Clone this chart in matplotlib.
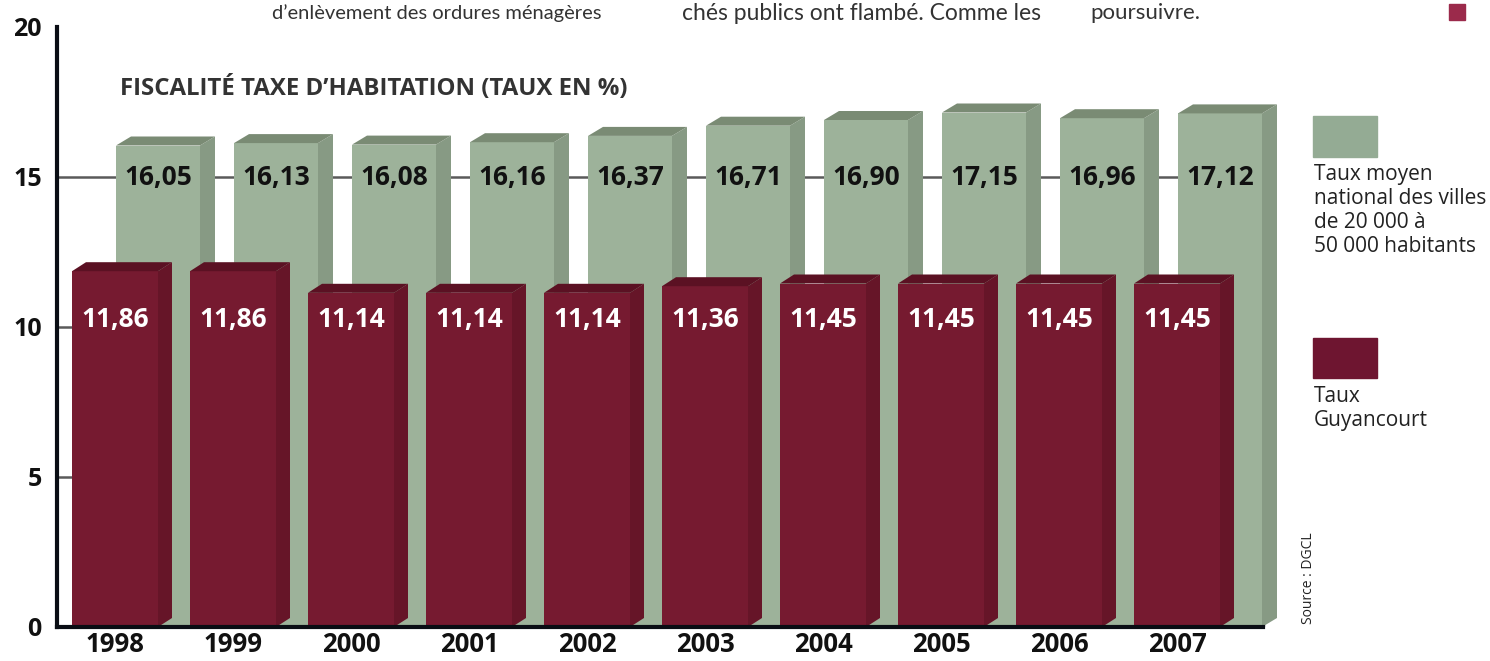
import matplotlib
matplotlib.use("Agg")
import matplotlib.pyplot as plt
from matplotlib.patches import Rectangle

plt.rcParams['font.family'] = ['Open Sans', 'DejaVu Sans']

# data
years = ['1998', '1999', '2000', '2001', '2002', '2003', '2004', '2005', '2006', '2007']
national = [16.05, 16.13, 16.08, 16.16, 16.37, 16.71, 16.90, 17.15, 16.96, 17.12]
guyancourt = [11.86, 11.86, 11.14, 11.14, 11.14, 11.36, 11.45, 11.45, 11.45, 11.45]
yticks = [0, 5, 10, 15, 20]

# colours
g_front, g_side, g_top = '#9db29a', '#879a84', '#7a8b74'
m_front, m_side, m_top = '#761a30', '#661528', '#5b1123'

W, H = 1490, 661
fig = plt.figure(figsize=(W / 100, H / 100), dpi=100)
# axes: y=0 at 627px, y=20 at 27px, x=0 at 57px, 1 slot = 118px
ax = fig.add_axes([57 / W, 34 / H, (W - 57) / W, 600 / H])
ax.set_xlim(0, (W - 57) / 118)
ax.set_ylim(0, 20)

def fmt(v):
    return f"{v:.2f}".replace('.', ',')

# gridlines
for yv in [5, 10, 15]:
    ax.hlines(yv, 0, 9.6, color='#5a5a5a', lw=1.8, zorder=1)

dy = 9 / 30

def bar3d(x0, w, h, dx, front, side, top, z):
    ax.bar(x0, h, width=w, align='edge', color=front, zorder=z, linewidth=0)
    ax.fill([x0 + w, x0 + w + dx, x0 + w + dx, x0 + w],
            [0, dy, h + dy, h], color=side, zorder=z, lw=0)
    ax.fill([x0, x0 + w, x0 + w + dx, x0 + dx],
            [h, h, h + dy, h + dy], color=top, zorder=z, lw=0)

# back row: national average
gw, gdx = 84 / 118, 15 / 118
for i, v in enumerate(national):
    x0 = 0.5 + i
    bar3d(x0, gw, v, gdx, g_front, g_side, g_top, 2 + i * 0.01)
    ax.text(x0 + gw / 2, 15, fmt(v), ha='center', va='center',
            fontsize=19, fontweight='bold', color='#111111', zorder=3)

# front row: Guyancourt
mw, mdx = 86 / 118, 14 / 118
for i, v in enumerate(guyancourt):
    x0 = 15 / 118 + i
    bar3d(x0, mw, v, mdx, m_front, m_side, m_top, 4 + i * 0.01)
    ax.text(x0 + mw / 2, 10.25, fmt(v), ha='center', va='center',
            fontsize=19, fontweight='bold', color='white', zorder=5)
    ax.text(x0 + mw / 2, -0.6, years[i], ha='center', va='center',
            fontsize=18.5, fontweight='bold', color='#111111', zorder=5,
            clip_on=False)

# axes styling
for s in ['top', 'right']:
    ax.spines[s].set_visible(False)
for s in ['left', 'bottom']:
    ax.spines[s].set_linewidth(3)
    ax.spines[s].set_color('#0a0d14')
    ax.spines[s].set_zorder(8)
ax.spines['bottom'].set_bounds(0, 10.22)
ax.set_yticks(yticks)
ax.set_yticklabels([str(t) for t in yticks], fontsize=18, fontweight='bold',
                   color='#111111')
ax.tick_params(axis='y', length=0, pad=11)
ax.set_xticks([1.0 + 1.0254 * k for k in range(10)])
ax.set_xticklabels([])
ax.tick_params(axis='x', direction='in', length=9, width=1.6, color='#0a0d14')
ax.patch.set_visible(False)

# title
fig.text(120 / W, 1 - 88 / H, "FISCALITÉ TAXE D\u2019HABITATION (TAUX EN %)",
         fontsize=17.3, fontweight='bold', color='#333333', va='center')

# stray article text at top
narrow = ['Lato', 'DejaVu Sans']
fig.text(272 / W, 1 - 13 / H, "d\u2019enlèvement des ordures ménagères",
         fontsize=14.5, family=narrow, color='#333333', va='center')
fig.text(682 / W, 1 - 13 / H, "chés publics ont flambé. Comme les",
         fontsize=16.5, family=narrow, color='#333333', va='center')
fig.text(1090 / W, 1 - 13 / H, "poursuivre.",
         fontsize=16, family=narrow, color='#333333', va='center')
fig.patches.append(Rectangle((1449 / W, 1 - 20 / H), 16 / W, 16 / H,
                             transform=fig.transFigure, color='#9b2a4b'))

# legend
fig.patches.append(Rectangle((1313 / W, 1 - 157 / H), 64 / W, 41 / H,
                             transform=fig.transFigure, color='#94ab94'))
fig.text(1314 / W, 1 - 164 / H,
         "Taux moyen\nnational des villes\nde 20 000 à\n50 000 habitants",
         fontsize=15, color='#222222', va='top', linespacing=1.18)
fig.patches.append(Rectangle((1313 / W, 1 - 378 / H), 64 / W, 40 / H,
                             transform=fig.transFigure, color='#6e1530'))
fig.text(1314 / W, 1 - 386 / H, "Taux\nGuyancourt",
         fontsize=15, color='#222222', va='top', linespacing=1.18)

fig.text(1308 / W, 1 - 578 / H, "Source : DGCL", rotation=90,
         fontsize=10, color='#222222', ha='center', va='center')

fig.savefig('out.png', dpi=100)
